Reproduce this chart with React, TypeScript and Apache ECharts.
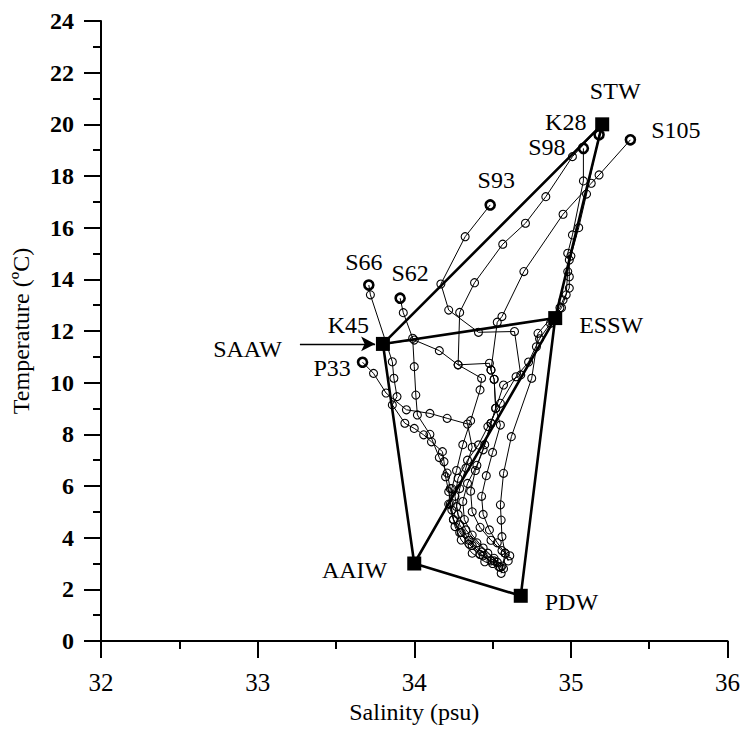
import React, { useEffect, useRef } from "react";
import * as echarts from "echarts";

// Water mass end-members
const massNames = ["STW", "ESSW", "SAAW", "AAIW", "PDW"];
const massSal = [35.2, 34.9, 33.8, 34.0, 34.68];
const massTemp = [20.0, 12.5, 11.5, 3.0, 1.75];
// mixing-line path through the end-members
const mixingPath = ["SAAW", "STW", "ESSW", "SAAW", "AAIW", "ESSW", "PDW", "AAIW"];
// SAAW arrow
const arrowFrom = [33.27, 11.5];
const arrowTo = [33.75, 11.5];

// Station profiles [salinity, temperature]
const S105 = [[35.38,19.40],[35.18,18.04],[35.13,17.72],[34.95,16.52],[34.70,14.30],[34.56,12.56],[34.53,12.34],[34.49,10.49],[34.51,10.13],[34.52,9.01],[34.55,8.36],[34.50,7.3],[34.46,6.4],[34.43,5.6],[34.44,4.9],[34.48,4.3],[34.53,3.8],[34.58,3.4],[34.60,3.1]];
const K28 = [[35.20,20.00],[35.01,18.75],[34.84,17.20],[34.71,16.17],[34.565,15.36],[34.385,13.87],[34.29,12.72],[34.28,10.69],[34.43,10.17],[34.42,9.72],[34.36,8.53],[34.31,7.6],[34.27,6.6],[34.24,5.9],[34.23,5.3],[34.25,4.7],[34.30,4.2],[34.37,3.7],[34.44,3.3],[34.50,3.0]];
const S98 = [[35.08,19.07],[35.08,17.81],[35.01,15.72],[34.98,15.01],[34.99,14.75],[34.99,14.10],[34.99,13.66],[34.95,13.2],[34.93,12.9],[34.79,11.91],[34.78,11.39],[34.75,10.17],[34.62,7.91],[34.57,6.49],[34.55,5.27],[34.555,4.68],[34.56,4.04],[34.58,3.40],[34.555,2.62]];
const STWB = [[35.18,19.6],[35.1,17.3],[35.05,16.0],[35.0,14.9],[34.98,14.3],[34.97,13.4],[34.94,12.9],[34.87,12.3],[34.8,11.7],[34.73,10.8],[34.65,10.23],[34.55,9.2],[34.47,8.3],[34.41,7.59],[34.34,7.0],[34.28,6.3],[34.26,5.6],[34.28,4.9],[34.33,4.3],[34.40,3.8],[34.47,3.4],[34.53,3.05]];
const S93 = [[34.485,16.88],[34.325,15.65],[34.17,13.82],[34.22,12.81],[34.41,11.95],[34.64,11.98],[34.68,10.30],[34.57,9.91],[34.49,8.43],[34.45,7.6],[34.40,6.8],[34.34,6.1],[34.31,5.4],[34.32,4.7],[34.37,4.1],[34.44,3.6],[34.51,3.2],[34.56,2.9]];
const S66 = [[33.71,13.78],[33.72,13.40],[33.86,10.81],[33.87,10.17],[33.89,9.46],[33.86,9.14],[33.94,8.43],[34.00,8.23],[34.06,7.98],[34.11,7.71],[34.18,7.33],[34.19,6.94],[34.20,6.36],[34.22,5.78],[34.24,5.07],[34.26,4.43],[34.30,3.91],[34.37,3.40],[34.45,3.07],[34.54,2.88]];
const S62 = [[33.91,13.27],[33.93,12.71],[33.99,11.72],[34.00,10.62],[34.01,9.52],[34.02,8.75],[34.10,8.0],[34.16,7.1],[34.21,6.5],[34.23,5.9],[34.22,5.3],[34.25,4.7],[34.29,4.2],[34.35,3.75],[34.42,3.35],[34.49,3.1],[34.55,2.85]];
const P33 = [[33.67,10.79],[33.74,10.36],[33.82,9.6],[33.95,8.95],[34.10,8.81],[34.21,8.62],[34.34,8.40],[34.37,7.5],[34.33,6.7],[34.29,5.9],[34.27,5.2],[34.29,4.5],[34.35,3.9],[34.43,3.45],[34.51,3.1],[34.57,2.8]];
const K45 = [[33.80,11.50],[34.00,11.65],[34.16,11.24],[34.28,10.69],[34.48,10.75],[34.49,10.49],[34.51,10.13],[34.52,9.01],[34.49,8.43],[34.44,7.4],[34.39,6.6],[34.36,5.8],[34.37,5.0],[34.42,4.4],[34.49,3.9],[34.56,3.5],[34.61,3.3]];

const profiles: { name: string; pts: number[][]; labelled: boolean }[] = [
  { name: "S105", pts: S105, labelled: true },
  { name: "K28", pts: K28, labelled: true },
  { name: "S98", pts: S98, labelled: true },
  { name: "STWB", pts: STWB, labelled: false },
  { name: "S93", pts: S93, labelled: true },
  { name: "S66", pts: S66, labelled: true },
  { name: "S62", pts: S62, labelled: true },
  { name: "P33", pts: P33, labelled: true },
  { name: "K45", pts: K45, labelled: true },
];

const FONT = "Liberation Serif";

const labelStyle: Record<string, any> = {
  STW: { position: "top", distance: 14, offset: [13, 0] },
  ESSW: { position: "right", distance: 17, offset: [0, 7] },
  SAAW: { position: "left", distance: 94, offset: [0, 5] },
  AAIW: { position: "left", distance: 20, offset: [0, 6] },
  PDW: { position: "right", distance: 17, offset: [0, 6] },
  S105: { position: "right", distance: 15, offset: [0, -10] },
  K28: { position: "left", distance: 10, offset: [0, -2] },
  S98: { position: "left", distance: 12, offset: [0, -1] },
  S93: { position: "top", distance: 7, offset: [6, 0] },
  S66: { position: "top", distance: 5, offset: [-5, 0] },
  S62: { position: "top", distance: 7, offset: [10, 0] },
  P33: { position: "left", distance: 6, offset: [0, 6] },
  K45: { position: "left", distance: 8, offset: [0, -19] },
};

export default function App() {
  const ref = useRef<HTMLDivElement>(null);
  useEffect(() => {
    if (!ref.current) return;
    const chart = echarts.init(ref.current, undefined, { renderer: "svg" });
    const idx = (n: string) => massNames.indexOf(n);
    const baseLabel = { show: true, color: "#000", fontFamily: FONT, fontSize: 24 };

    const profileSeries = profiles.map((p) => ({
      type: "line",
      name: p.name,
      z: 4,
      symbol: "circle",
      symbolSize: 8,
      showAllSymbol: true,
      lineStyle: { color: "#000", width: 1 },
      itemStyle: { color: "rgba(255,255,255,0)", borderColor: "#000", borderWidth: 1.1, opacity: 1 },
      emphasis: { disabled: true },
      data: p.pts.map((pt, i) =>
        i === 0
          ? {
              value: pt,
              symbolSize: 9,
              itemStyle: { color: "rgba(255,255,255,0)", borderColor: "#000", borderWidth: 2.6, opacity: 1 },
              label: p.labelled ? { ...baseLabel, formatter: p.name, ...labelStyle[p.name] } : { show: false },
            }
          : { value: pt }
      ),
    }));

    const option: any = {
      animation: false,
      backgroundColor: "#fff",
      grid: { left: 101, right: 13, top: 21, bottom: 88 },
      xAxis: {
        type: "value",
        min: 32,
        max: 36,
        interval: 1,
        name: "Salinity (psu)",
        nameLocation: "middle",
        nameGap: 58,
        nameTextStyle: { color: "#000", fontFamily: FONT, fontSize: 24 },
        axisLine: { show: true, onZero: false, lineStyle: { color: "#000", width: 2 } },
        axisTick: { show: true, inside: false, length: 17, lineStyle: { color: "#000", width: 2 } },
        minorTick: { show: true, splitNumber: 2, length: 8, lineStyle: { color: "#000", width: 2 } },
        splitLine: { show: false },
        minorSplitLine: { show: false },
        axisLabel: { color: "#000", fontFamily: FONT, fontSize: 25, margin: 29 },
      },
      yAxis: {
        type: "value",
        min: 0,
        max: 24,
        interval: 2,
        name: "Temperature (ºC)",
        nameLocation: "middle",
        nameGap: 68,
        nameTextStyle: { color: "#000", fontFamily: FONT, fontSize: 24 },
        axisLine: { show: true, onZero: false, lineStyle: { color: "#000", width: 2 } },
        axisTick: { show: true, inside: false, length: 17, lineStyle: { color: "#000", width: 2 } },
        minorTick: { show: true, splitNumber: 2, length: 8, lineStyle: { color: "#000", width: 2 } },
        splitLine: { show: false },
        minorSplitLine: { show: false },
        axisLabel: { color: "#000", fontFamily: FONT, fontSize: 24, fontWeight: "bold", margin: 27 },
      },
      series: [
        {
          type: "line",
          name: "mixing",
          z: 3,
          symbol: "none",
          lineStyle: { color: "#000", width: 2.6 },
          emphasis: { disabled: true },
          data: mixingPath.map((n) => [massSal[idx(n)], massTemp[idx(n)]]),
        },
        ...profileSeries,
        {
          type: "scatter",
          name: "masses",
          z: 6,
          symbol: "rect",
          symbolSize: 14,
          itemStyle: { color: "#000", opacity: 1 },
          emphasis: { disabled: true },
          data: massNames.map((n, i) => ({
            value: [massSal[i], massTemp[i]],
            label: { ...baseLabel, formatter: n, ...labelStyle[n] },
          })),
          markLine: {
            silent: true,
            symbol: ["none", "arrow"],
            symbolSize: [11, 14],
            lineStyle: { color: "#000", width: 1.3, type: "solid", opacity: 1 },
            itemStyle: { color: "#000" },
            label: { show: false },
            emphasis: { disabled: true },
            data: [[{ coord: arrowFrom }, { coord: arrowTo }]],
          },
        },
      ],
    };
    chart.setOption(option);
    return () => chart.dispose();
  }, []);
  return (
    <div
      ref={ref}
      style={{ position: "fixed", left: 0, top: 0, width: 743, height: 729, background: "#fff" }}
    />
  );
}
